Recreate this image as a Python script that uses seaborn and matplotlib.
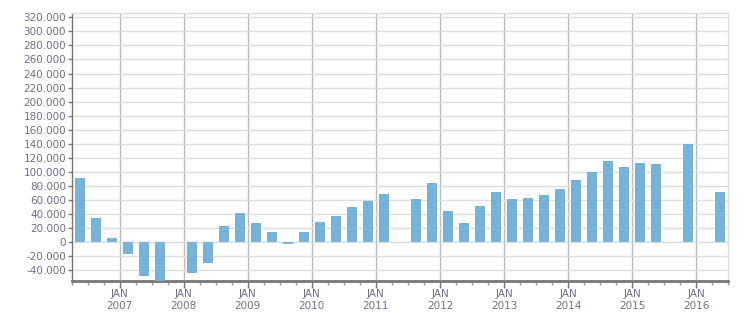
import numpy as np
import pandas as pd
import matplotlib
matplotlib.use("Agg")
import matplotlib.pyplot as plt
import seaborn as sns
from matplotlib.ticker import FuncFormatter, MultipleLocator, FixedLocator

# Quarterly data (Q2 2006 .. Q2 2016); None = no bar
quarters = ["2006Q2", "2006Q3", "2006Q4",
            "2007Q1", "2007Q2", "2007Q3", "2007Q4",
            "2008Q1", "2008Q2", "2008Q3", "2008Q4",
            "2009Q1", "2009Q2", "2009Q3", "2009Q4",
            "2010Q1", "2010Q2", "2010Q3", "2010Q4",
            "2011Q1", "2011Q2", "2011Q3", "2011Q4",
            "2012Q1", "2012Q2", "2012Q3", "2012Q4",
            "2013Q1", "2013Q2", "2013Q3", "2013Q4",
            "2014Q1", "2014Q2", "2014Q3", "2014Q4",
            "2015Q1", "2015Q2", "2015Q3", "2015Q4",
            "2016Q1", "2016Q2"]
values = [92000, 35000, 6000,
          -17000, -48000, -62000, None,
          -43000, -30000, 23000, 42000,
          27500, 14500, -3000, 14500,
          29000, 37500, 50000, 59000,
          69000, None, 62000, 84500,
          44500, 27500, 51500, 71500,
          62000, 63000, 67000, 76000,
          88500, 100000, 115500, 107000,
          113000, 111500, None, 140000,
          None, 71500]
year_ticks = [2007, 2008, 2009, 2010, 2011, 2012, 2013, 2014, 2015, 2016]
year_labels = [f"JAN\n{y}" for y in year_ticks]

def qpos(q):
    y, n = q.split("Q")
    return int(y) + (int(n) - 1) / 4 + 0.125

df = pd.DataFrame({"pos": [qpos(q) for q in quarters], "value": values}).dropna()

sns.set_style("white")
fig = plt.figure(figsize=(7.51, 3.13), dpi=100)
ax = fig.add_axes([71.5 / 751, 1 - 280.7 / 313, (728.3 - 71.5) / 751, (280.7 - 13.3) / 313])

sns.barplot(data=df, x="pos", y="value", native_scale=True, width=0.625,
            color="#78B2D5", saturation=1, linewidth=0, edgecolor="none",
            ax=ax, zorder=3)

ax.set_xlim(2006.25, 2016.5)
ax.set_ylim(-54600, 325700)

text_color = "#6E6E88"
ax.yaxis.set_major_locator(FixedLocator(np.arange(-40000, 320001, 20000)))
ax.yaxis.set_major_formatter(FuncFormatter(lambda v, p: f"{v:,.0f}".replace(",", ".")))
ax.xaxis.set_major_locator(FixedLocator(year_ticks))
ax.set_xticklabels(year_labels)
ax.xaxis.set_minor_locator(MultipleLocator(0.25))

ax.grid(axis="y", color="#DDDDDD", linewidth=1, zorder=0)
ax.grid(axis="x", which="major", color="#BBBBBB", linewidth=1, zorder=0)
ax.set_axisbelow(True)

ax.tick_params(axis="y", length=3, width=1, color="#777777", labelsize=7.5,
               labelcolor=text_color, pad=1, left=True)
ax.tick_params(axis="x", which="major", length=5, width=1, color="#777777",
               labelsize=7.5, labelcolor=text_color, pad=1, bottom=True)
ax.tick_params(axis="x", which="minor", length=3, width=1, color="#999999", bottom=True)

for s in ["top", "right"]:
    ax.spines[s].set_color("#DDDDDD")
    ax.spines[s].set_linewidth(1)
ax.spines["left"].set_color("#777777")
ax.spines["left"].set_linewidth(1)
ax.spines["bottom"].set_color("#777777")
ax.spines["bottom"].set_linewidth(2)

ax.set_xlabel("")
ax.set_ylabel("")
for lbl in ax.get_xticklabels():
    lbl.set_linespacing(1.25)

fig.savefig("out.png", dpi=100)
